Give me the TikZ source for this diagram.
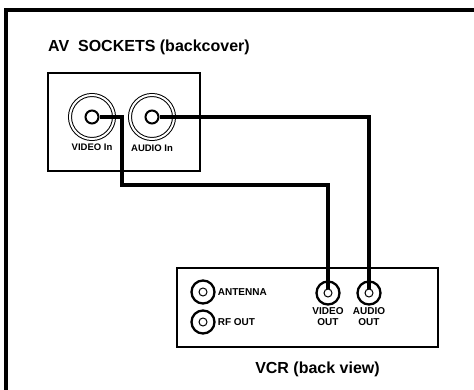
\documentclass[tikz,border=0pt]{standalone}
\usepackage{fontspec}
\setmainfont{Liberation Sans}
\usepackage{tikz}
\usetikzlibrary{positioning}

\begin{document}
\begin{tikzpicture}[x=1pt,y=-1pt]
        \tikzstyle{jack}=[circle,draw,line width=1pt,double,
            double distance=2pt,minimum size=44pt,inner sep=0pt]
        \tikzstyle{pin}=[circle,draw,fill=white,line width=2pt,
            minimum size=13pt,inner sep=0pt]
        \tikzstyle{plug}=[circle,draw,line width=2.3pt,
            minimum size=23pt,inner sep=0pt]
        \tikzstyle{hole}=[circle,draw,line width=1pt,
            minimum size=8pt,inner sep=0pt]
        \tikzstyle{wire}=[line width=4pt]
        \tikzstyle{small}=[font=\bfseries\fontsize{9.5}{10}\selectfont,
            inner sep=1pt]
        \tikzstyle{tag}=[font=\bfseries\fontsize{10}{11}\selectfont,
            inner sep=1pt,align=center]
        \tikzstyle{head}=[font=\bfseries\fontsize{16}{18}\selectfont,
            inner sep=0pt]

            \useasboundingbox (0,0) rectangle (474,390);
            \draw[line width=3.5pt] (6,392) -- (6,10) -- (476,10);

            \node[head, anchor=base west] (avhead) at (48,52)
            {AV\ \ SOCKETS (backcover)};

            \node[draw, line width=1.2pt, minimum width=152pt,
            minimum height=98pt, inner sep=0pt] (avbox) at (124,122) {};

            \node[jack] (vjack) at (92,117) {};
            \node[pin] (vin) at (vjack) {};
            \node[small, below=3pt of vjack] {VIDEO In};

            \node[jack] (ajack) at (152,117) {};
            \node[pin] (ain) at (ajack) {};
            \node[small, below=4pt of ajack] {AUDIO In};

            \node[draw, line width=1.8pt, minimum width=261pt,
            minimum height=79pt, inner sep=0pt] (vcr) at (307.5,307.5) {};

            \node[plug] (antp) at (203,292) {};
            \node[hole] (anth) at (antp) {};
            \node[tag, right=1pt of antp] {ANTENNA};

            \node[plug] (rfp) at (203,322) {};
            \node[hole] (rfh) at (rfp) {};
            \node[tag, right=1pt of rfp] {RF OUT};

            \node[plug] (voutp) at (328,293) {};
            \node[hole] (vout) at (voutp) {};
            \node[tag, below=1pt of voutp] {VIDEO\\OUT};

            \node[plug] (aoutp) at (369,293) {};
            \node[hole] (aout) at (aoutp) {};
            \node[tag, below=1pt of aoutp] {AUDIO\\OUT};

            \node[head, below=14pt of vcr.south, xshift=10pt] (vcrhead)
            {VCR (back view)};

            \draw[wire] (vin.east) -| (122,185) -| (vout.north);
            \draw[wire] (ain.east) -| (aout.north);
    \end{tikzpicture}
\end{document}
